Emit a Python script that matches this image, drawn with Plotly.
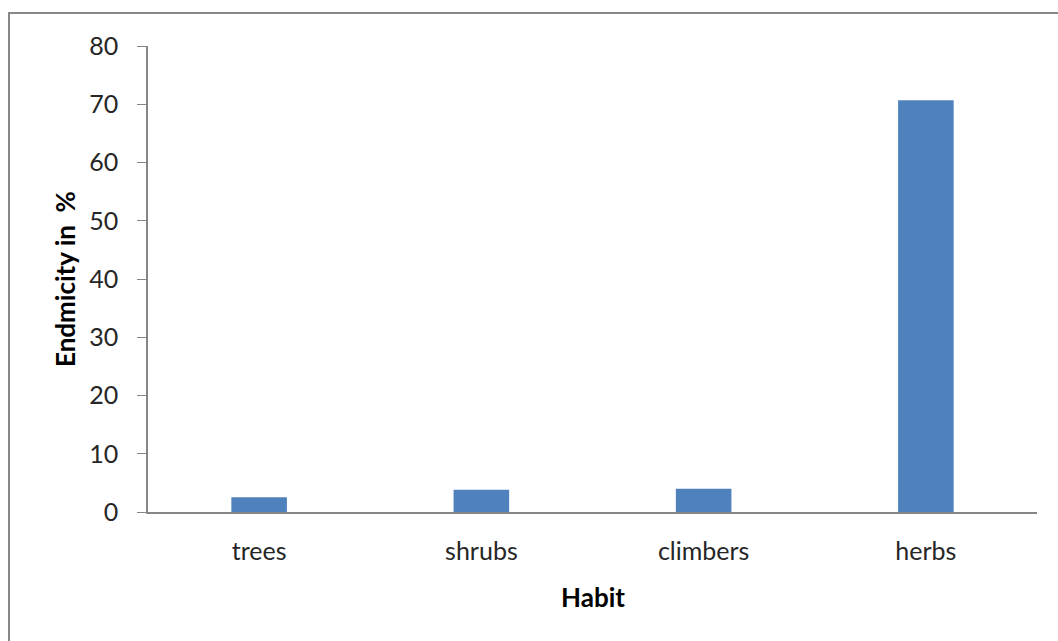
import plotly.graph_objects as go

categories = ["trees", "shrubs", "climbers", "herbs"]
values = [2.55, 3.8, 4.0, 70.7]
y_ticks = [0, 10, 20, 30, 40, 50, 60, 70, 80]

W, H = 1058, 641
ml, mr, mt, mb = 148, 21, 46, 129
pw, ph = W - ml - mr, H - mt - mb

FONT = "Lato"
AX = "#868686"

fig = go.Figure(go.Bar(
    x=categories, y=values, width=0.25,
    marker=dict(color="#4f81bd", line=dict(width=0)),
))

fig.update_layout(
    width=W, height=H,
    margin=dict(l=ml, r=mr, t=mt, b=mb),
    paper_bgcolor="white", plot_bgcolor="white",
    showlegend=False,
    font=dict(family=FONT, size=25, color="#262626"),
    xaxis=dict(showline=True, linecolor=AX, linewidth=1.5, ticks="",
               showgrid=False, ticklabelstandoff=16,
               tickfont=dict(size=25)),
    yaxis=dict(range=[0, 80], tickvals=y_ticks, showline=True, linecolor=AX,
               linewidth=1.5, ticks="outside", ticklen=9, tickcolor=AX,
               showgrid=False, zeroline=False, ticklabelstandoff=14,
               tickfont=dict(size=25)),
    shapes=[dict(type="rect", xref="paper", yref="paper",
                 x0=(9 - ml) / pw, x1=1.3,
                 y0=-0.5, y1=1 + (mt - 13) / ph,
                 line=dict(color="#878787", width=2), layer="below")],
    annotations=[
        dict(text="<b>Habit</b>", xref="paper", yref="paper",
             x=0.5, y=-(597 - mt - ph) / ph, showarrow=False,
             font=dict(size=26, color="black"), xanchor="center", yanchor="middle"),
        dict(text="<b>Endmicity in  %</b>", xref="paper", yref="paper",
             x=(65 - ml) / pw, y=1 - (279 - mt) / ph, showarrow=False, textangle=-90,
             font=dict(size=26, color="black"), xanchor="center", yanchor="middle"),
    ],
)

fig.write_html("out.html")
